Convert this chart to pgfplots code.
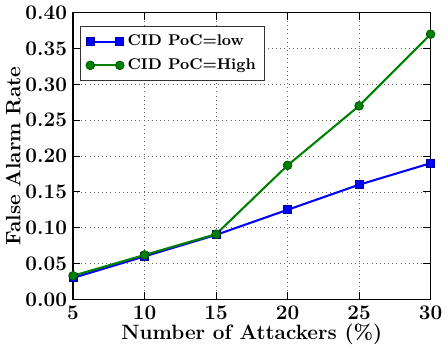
\documentclass[border=0pt]{standalone}
\usepackage{pgfplots}
\pgfplotsset{compat=1.18}
\definecolor{mgreen}{rgb}{0,0.5,0}
\begin{document}
\begin{tikzpicture}
\begin{axis}[
  scale only axis,
  width=207pt, height=166pt,
  xmin=5, xmax=30, ymin=0, ymax=0.4,
  xtick={5,10,15,20,25,30},
  ytick={0,0.05,0.1,0.15,0.2,0.25,0.3,0.35,0.4},
  yticklabel style={/pgf/number format/.cd, fixed, fixed zerofill, precision=2},
  ticklabel style={font=\bfseries\large},
  /pgf/number format/assume math mode=true,
  grid=major,
  major grid style={dotted, black!60},
  axis line style={black, line width=0.7pt},
  tick style={black, line width=0.6pt},
  xlabel={\bfseries\large Number of Attackers (\%)},
  ylabel={\bfseries\large False Alarm Rate},
  xlabel style={yshift=4pt},
  ylabel style={yshift=-4pt},
  legend style={at={(0.02,0.955)}, anchor=north west, font=\bfseries\small, draw=black!80, line width=0.7pt, row sep=2pt, inner xsep=3pt, inner ysep=3pt},
  legend cell align=left,
  legend image code/.code={\draw[mark repeat=2,mark phase=1,#1] plot coordinates {(0cm,0cm) (0.3cm,0cm) (0.6cm,0cm)};},
]
\addplot[blue, line width=1.2pt, mark=square*, mark size=2.3pt, mark options={draw=blue!60!black, line width=0.5pt}] coordinates {
(5,0.030) (10,0.060) (15,0.090) (20,0.125) (25,0.160) (30,0.190)};
\addlegendentry{CID PoC=low}
\addplot[mgreen, line width=1.2pt, mark=*, mark size=2.5pt, mark options={draw=mgreen!70!black, line width=0.5pt}] coordinates {
(5,0.033) (10,0.062) (15,0.091) (20,0.187) (25,0.270) (30,0.370)};
\addlegendentry{CID PoC=High}
\end{axis}
\end{tikzpicture}
\end{document}
